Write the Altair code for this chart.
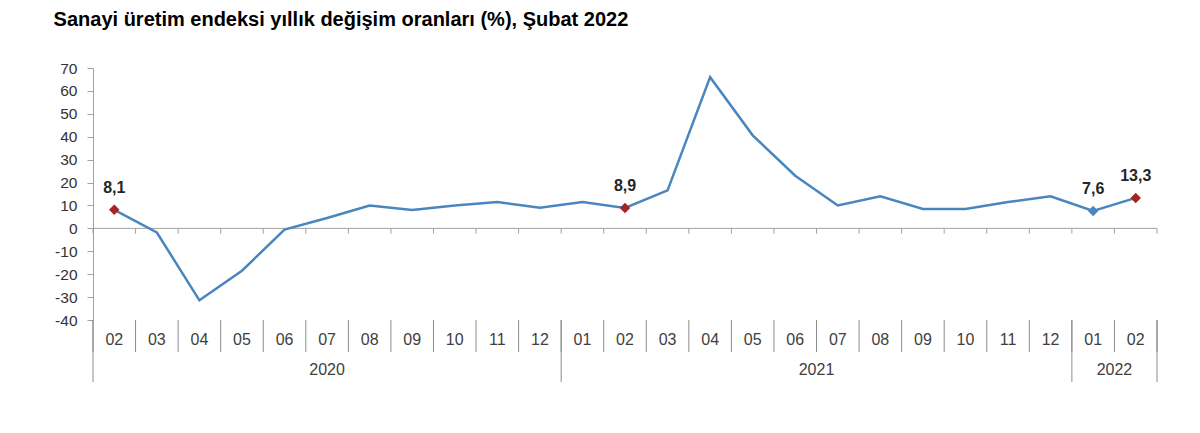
import altair as alt
import pandas as pd

months = ["02", "03", "04", "05", "06", "07", "08", "09", "10", "11", "12",
          "01", "02", "03", "04", "05", "06", "07", "08", "09", "10", "11", "12",
          "01", "02"]
values = [8.1, -1.8, -31.4, -18.5, -0.5, 4.5, 10.0, 8.0, 10.0, 11.5, 9.0,
          11.5, 8.9, 16.6, 66.0, 40.6, 23.0, 10.0, 14.0, 8.5, 8.5, 11.5, 14.0,
          7.6, 13.3]
years = ["2020", "2021", "2022"]
year_first = [0, 11, 23]
year_last = [10, 22, 24]
labeled_idx = [0, 12, 23, 24]
labeled_text = ["8,1", "8,9", "7,6", "13,3"]
marker_color = ["red", "red", "blue", "red"]
y_ticks = [-40, -30, -20, -10, 0, 10, 20, 30, 40, 50, 60, 70]

W, H = 1064, 252
LINE = "#4a86be"
RED = "#a52322"
FONT = "Liberation Sans"

df = pd.DataFrame({"i": list(range(len(values))), "m": months, "v": values})
lab = pd.DataFrame({
    "i": labeled_idx,
    "v": [values[k] for k in labeled_idx],
    "t": labeled_text,
    "c": marker_color,
})
bounds = pd.DataFrame({"b": [k - 0.5 for k in range(len(values) + 1)]})
ybounds = pd.DataFrame({"b": [year_first[0] - 0.5] + [l + 0.5 for l in year_last]})
yr = pd.DataFrame({"y": years, "c": [(a + b) / 2 for a, b in zip(year_first, year_last)]})

xs = alt.Scale(domain=[-0.5, len(values) - 0.5], nice=False, zero=False)
ys = alt.Scale(domain=[-40, 70], nice=False, zero=False)
yaxis = alt.Axis(values=y_ticks, grid=False, labelOverlap=False,
                 labelExpr="'' + datum.value", tickCount=12,
                 tickSize=6, domainColor="#a0a0a0", tickColor="#a0a0a0",
                 labelColor="#333333", labelFontSize=15.5,
                 labelFont=FONT, labelPadding=10)

xq = lambda f: alt.X(f, type="quantitative", scale=xs, axis=None)
yq = lambda f: alt.Y(f, type="quantitative", scale=ys, title=None, axis=yaxis)

line = alt.Chart(df).mark_line(color=LINE, strokeWidth=2.5).encode(
    x=xq("i"), y=yq("v"))

zero_df = pd.DataFrame({"a": [-0.5], "b": [len(values) - 0.5], "z": [0.0]})
zero = alt.Chart(zero_df).mark_rule(color="#a0a0a0", strokeWidth=1).encode(
    x=xq("a"), x2="b", y=yq("z"))

tick_df = bounds.assign(z0=0.0, z1=-2.3)
zticks = alt.Chart(tick_df).mark_rule(color="#a0a0a0", strokeWidth=1).encode(
    x=xq("b"), y=yq("z0"), y2="z1")

pts = alt.Chart(lab).mark_point(shape="diamond", filled=True, size=110, opacity=1).encode(
    x=xq("i"), y=yq("v"),
    color=alt.Color("c:N", scale=alt.Scale(domain=["red", "blue"], range=[RED, LINE]), legend=None),
)

txt = alt.Chart(lab).mark_text(fontSize=16, fontWeight="bold", color="#262626",
                               font=FONT, dy=-22).encode(
    x=xq("i"), y=yq("v"), text="t:N")

msep = alt.Chart(bounds).mark_rule(color="#8c8c8c", strokeWidth=1).encode(
    x=xq("b"), y=alt.value(H), y2=alt.value(H + 32))

ysep = alt.Chart(ybounds).mark_rule(color="#8c8c8c", strokeWidth=1).encode(
    x=xq("b"), y=alt.value(H), y2=alt.value(H + 62))

mlab = alt.Chart(df).mark_text(fontSize=16, color="#404040", font=FONT).encode(
    x=xq("i"), y=alt.value(H + 20), text="m:N")

ylab = alt.Chart(yr).mark_text(fontSize=16, color="#404040", font=FONT).encode(
    x=xq("c"), y=alt.value(H + 50), text="y:N")

chart = alt.layer(zero, zticks, line, pts, txt, msep, ysep, mlab, ylab).properties(
    width=W, height=H,
    title=alt.TitleParams(
        "Sanayi üretim endeksi yıllık değişim oranları (%), Şubat 2022",
        anchor="start", font=FONT, fontSize=20, fontWeight="bold",
        color="#000000", dx=-1, offset=31),
    autosize=alt.AutoSizeParams(type="none"),
    padding={"left": 85, "top": 60, "right": 35, "bottom": 70},
).configure_view(stroke=None).configure_axisY(
    labelOverlap=False, labelFontSize=15.5, labelFont=FONT, labelColor="#333333",
    labelPadding=10, tickSize=6, grid=False)

chart.save("out.html", embed_options={"renderer": "svg", "actions": False})
